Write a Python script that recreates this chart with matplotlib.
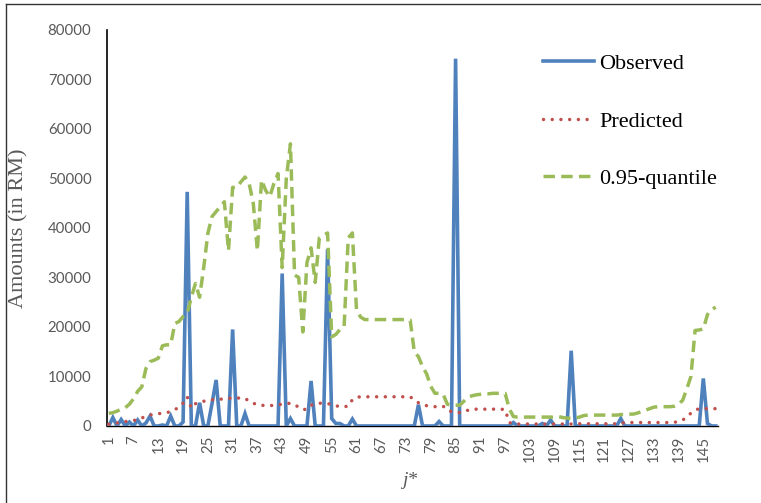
import numpy as np
import matplotlib
matplotlib.use("Agg")
import matplotlib.pyplot as plt
from matplotlib.lines import Line2D

# categories j* = 1..148
cats = np.arange(1, 149)

# observed amounts (mostly zero, a few spikes)
observed = [0, 1700, 0, 1300, 0, 800, 0, 1200, 0, 600,
            2000, 0, 0, 200, 0, 2000, 0, 0, 800, 47300,
            0, 0, 4700, 0, 0, 4500, 9300, 0, 0, 0,
            19500, 0, 0, 2500, 0, 0, 0, 0, 0, 0,
            0, 0, 30800, 0, 1500, 0, 0, 0, 0, 9100,
            0, 0, 0, 35700, 1500, 500, 500, 0, 0, 1400,
            0, 0, 0, 0, 0, 0, 0, 0, 0, 0,
            0, 0, 0, 0, 0, 4300, 0, 0, 0, 0,
            900, 0, 0, 0, 74200, 0, 0, 0, 0, 0,
            0, 0, 0, 0, 0, 0, 0, 0, 700, 0,
            0, 0, 0, 0, 0, 500, 0, 1200, 0, 0,
            0, 0, 15200, 0, 0, 0, 0, 0, 0, 0,
            0, 0, 0, 0, 1500, 0, 0, 0, 0, 0,
            0, 0, 0, 0, 0, 0, 0, 0, 0, 0,
            0, 0, 0, 0, 9600, 500, 0, 0]

predicted = [350, 500, 600, 700, 900, 1000, 1100, 1300, 1600, 2000,
             2200, 2400, 2500, 2550, 2700, 2900, 3300, 3800, 4600, 5900,
             3600, 4500, 4700, 5000, 5200, 5300, 5300, 5400, 5500, 5600,
             5600, 5600, 5700, 5600, 5000, 4600, 4300, 4200, 4100, 4100,
             4200, 4300, 4400, 4500, 4600, 4300, 3800, 3300, 3400, 4200,
             4400, 4600, 4600, 4500, 4400, 4100, 3900, 3900, 4000, 5300,
             5800, 5900, 5900, 5900, 5900, 5900, 5900, 5900, 5900, 5900,
             5900, 5900, 5900, 5900, 5300, 4700, 4300, 4100, 4000, 3900,
             3900, 4000, 3200, 2900, 2800, 2700, 2800, 3200, 3400, 3400,
             3400, 3400, 3400, 3400, 3400, 3400, 3300, 700, 400, 400,
             400, 400, 400, 400, 400, 400, 400, 400, 400, 400,
             400, 400, 400, 400, 450, 450, 450, 450, 450, 450,
             450, 450, 450, 450, 500, 700, 700, 700, 700, 700,
             700, 700, 700, 700, 700, 700, 700, 750, 900, 1200,
             1800, 2600, 3200, 3500, 3500, 3500, 3500, 3500]

quantile95 = [2550, 2700, 3000, 3400, 3700, 4400, 5500, 7000, 7900, 11600,
              13000, 13300, 13700, 16200, 16400, 16400, 20700, 21100, 22100, 22700,
              26000, 28800, 26000, 32000, 38900, 42300, 43300, 44300, 45300, 35400,
              48200, 48200, 49300, 50300, 49000, 45000, 35400, 49700, 47600, 46300,
              49000, 51000, 32000, 50000, 57000, 30500, 30000, 19000, 33000, 36000,
              29000, 38000, 38500, 39000, 18000, 18500, 19500, 20000, 38000, 39000,
              23500, 22000, 21500, 21500, 21500, 21500, 21500, 21500, 21500, 21500,
              21500, 21500, 21500, 21400, 15000, 14000, 12000, 10500, 8000, 6600,
              6600, 6400, 4400, 4200, 4200, 4200, 5000, 5800, 6100, 6300,
              6400, 6500, 6500, 6600, 6600, 6600, 6600, 3500, 1900, 1800,
              1800, 1800, 1800, 1800, 1800, 1800, 1800, 1800, 1700, 1900,
              1700, 1600, 1500, 1600, 1800, 2100, 2200, 2200, 2200, 2200,
              2200, 2200, 2200, 2200, 2300, 2300, 2400, 2400, 2600, 2900,
              3200, 3500, 3800, 3900, 3900, 3900, 3900, 4000, 4400, 5200,
              7500, 10000, 19300, 19400, 19600, 22500, 23500, 24000]

xtick_labels = [str(v) for v in range(1, 149, 6)]

fig = plt.figure(figsize=(7.61, 5.03), dpi=100)
ax = fig.add_axes([0.1402, 0.1531, 0.8030, 0.7873])

ax.plot(cats, observed, color="#4F81BD", lw=2.6, solid_joinstyle="miter",
        label="Observed", zorder=3)
ax.plot(cats, predicted, color="#C0504D", lw=2.5, linestyle=(0, (0.01, 2.5)),
        dash_capstyle="round", label="Predicted", zorder=4)
ax.plot(cats, quantile95, color="#9BBB59", lw=2.5, linestyle=(0, (3.3, 1.8)),
        label="0.95-quantile", zorder=5)

ax.set_xlim(0.5, 148.5)
ax.set_ylim(0, 80000)
ax.set_yticks(range(0, 80001, 10000))
ax.set_xticks(range(1, 149, 6))
ax.set_xticklabels(xtick_labels, rotation=90)

for s in ["top", "right"]:
    ax.spines[s].set_visible(False)
ax.spines["left"].set_linewidth(1.2)
ax.spines["bottom"].set_linewidth(1.0)
ax.spines["left"].set_color("black")
ax.spines["bottom"].set_color("black")

ax.tick_params(axis="both", length=0, colors="#595959", labelsize=10.8)
ax.tick_params(axis="y", pad=11)
ax.tick_params(axis="x", pad=7)
for lab in ax.get_xticklabels() + ax.get_yticklabels():
    lab.set_fontfamily("Lato")

ax.set_ylabel("Amounts (in RM)", family="Liberation Serif", fontsize=16, color="#595959")
ax.yaxis.set_label_coords(-0.1288, 0.5)
ax.set_xlabel("j*", family="Liberation Serif", style="italic", fontsize=14, color="#595959")
ax.xaxis.set_label_coords(0.496, -0.115)

leg = ax.legend(loc="upper left", bbox_to_anchor=(543 / 761, 1 - 53.5 / 503),
                bbox_transform=fig.transFigure, frameon=False, borderpad=0,
                borderaxespad=0, handlelength=2.3, handletextpad=0.22,
                labelspacing=1.66, prop={"family": "Liberation Serif", "size": 16})

# thin frame lines at top and left of the picture
fig.add_artist(Line2D([6 / 761, 1], [1 - 4 / 503, 1 - 4 / 503],
                      transform=fig.transFigure, color="#333333", lw=1))
fig.add_artist(Line2D([6 / 761, 6 / 761], [0, 1 - 4 / 503],
                      transform=fig.transFigure, color="#333333", lw=1))

fig.savefig("out.png", dpi=100)
